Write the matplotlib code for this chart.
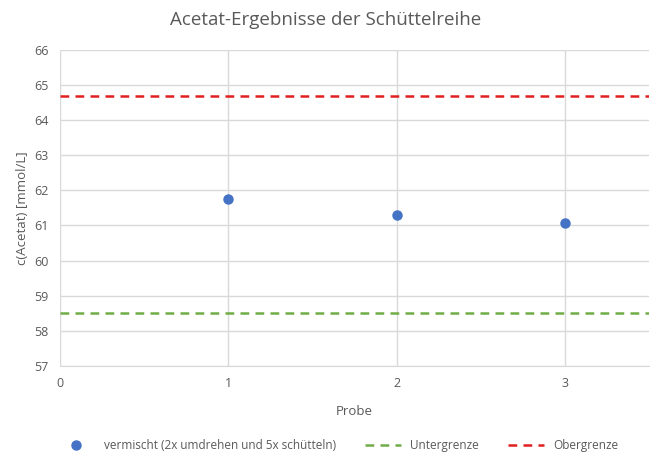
import numpy as np
import matplotlib
matplotlib.use('Agg')
import matplotlib.pyplot as plt

plt.rcParams['font.family'] = ['Open Sans', 'DejaVu Sans']

probe = [1, 2, 3]
acetat = [61.75, 61.3, 61.07]
untergrenze = 58.5
obergrenze = 64.7

grau = '#595959'

fig = plt.figure(figsize=(6.51, 4.54), dpi=100)
ax = fig.add_axes([0.092, 0.194, 0.905, 0.696])

ax.plot(probe, acetat, 'o', color='#4472C4', markersize=6.5,
        label='vermischt (2x umdrehen und 5x schütteln)', zorder=3)
ax.axhline(untergrenze, color='#70AD47', linestyle=(0, (3.5, 2.5)), linewidth=1.8,
           label='Untergrenze')
ax.axhline(obergrenze, color='#E02020', linestyle=(0, (3.5, 2.5)), linewidth=1.8,
           label='Obergrenze')

ax.set_xlim(0, 3.5)
ax.set_ylim(57, 66)
ax.set_xticks([0, 1, 2, 3])
ax.set_yticks(np.arange(57, 67, 1))
ax.grid(True, color='#d9d9d9', linewidth=1.0)
ax.set_axisbelow(True)
for s in ax.spines.values():
    s.set_visible(False)
ax.spines['bottom'].set_visible(True)
ax.spines['bottom'].set_color('#d9d9d9')
ax.tick_params(length=0, colors=grau, labelsize=9, pad=8)

ax.set_xlabel('Probe', color=grau, fontsize=9.5, labelpad=11)
ax.set_ylabel('c(Acetat) [mmol/L]', color=grau, fontsize=9.5, labelpad=4)
fig.suptitle('Acetat-Ergebnisse der Schüttelreihe', color=grau, fontsize=13.5, y=0.975)

leg = fig.legend(loc='lower center', bbox_to_anchor=(0.52, -0.02), ncol=3, frameon=False,
                 fontsize=8.5, handlelength=3, columnspacing=2.5)
for t in leg.get_texts():
    t.set_color(grau)

fig.savefig('out.png', dpi=100)
